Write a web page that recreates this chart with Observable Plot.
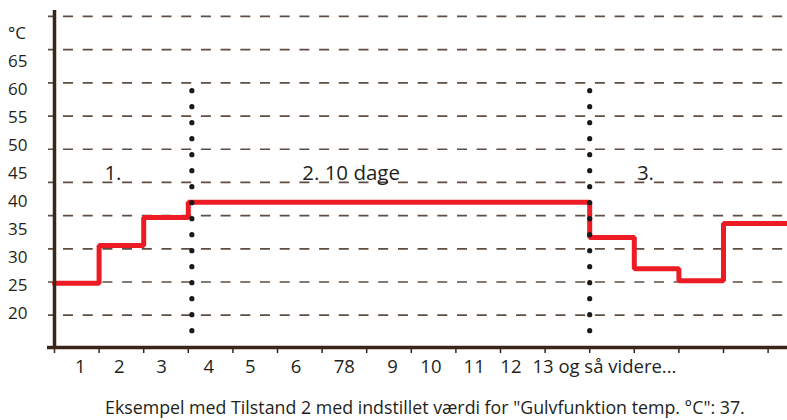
<!DOCTYPE html>
<html><head><meta charset="utf-8">
<script src="https://cdn.jsdelivr.net/npm/d3@7"></script>
<script src="https://cdn.jsdelivr.net/npm/@observablehq/plot@0.6"></script>
<style>
body{margin:0;background:#fff;}
#wrap{position:relative;width:787px;height:420px;overflow:hidden;font-family:"Open Sans",sans-serif;}
#wrap svg{position:absolute;left:0;top:0;}
#caption{position:absolute;left:105px;top:396.5px;font-size:17.8px;line-height:20px;color:#231f20;white-space:nowrap;}
</style></head><body>
<div id="wrap"><div id="caption"></div></div>
<script>
// Temperature program (step curve)
const days = [0, 1, 2, 3, 12, 13, 14, 15, 16.435];
const temps = [24.8, 30.5, 34.7, 37, 31.7, 27, 25.2, 33.8, 33.8];
// gridlines
const gridTemps = [20, 25, 30, 35, 40, 45, 50, 55, 60, 65];
// y tick labels (drawn on their own label scale)
const yTickValues = [20, 25, 30, 35, 40, 45, 50, 55, 60, 65, 70];
const yTickLabels = ["20", "25", "30", "35", "40", "45", "50", "55", "60", "65", "°C"];
// x ticks and labels
const xTickValues = [0, 1, 2, 3, 4, 5, 6, 7, 8, 9, 10, 11, 12, 13, 14, 15, 16];
const xLabels = ["1", "2", "3", "4", "5", "6", "78", "9", "10", "11", "12", "13 og så videre..."];
const xLabelPos = [0.576, 1.451, 2.399, 3.462, 4.388, 5.413, 6.496, 7.578, 8.439, 9.41, 10.233, 12.33];
// phase labels
const phaseLabels = ["1.", "2. 10 dage", "3."];
const phaseX = [1.31, 6.65, 13.25];
const phaseY = [41.36, 41.36, 41.36];
// dotted phase dividers
const dividerX = [3.08, 12];
const dividerTop = 53.74, dividerBottom = 17.39;
const captionText = 'Eksempel med Tilstand 2 med indstillet værdi for "Gulvfunktion temp. °C": 37.';

const xMin = 0, xMax = 16.435, yMin = 15.13, yMax = 65.9;
const axisColor = "#3b2418", gridColor = "#5e4d42", textColor = "#231f20";

const series = days.map((d, i) => ({day: d, temp: temps[i]}));
const xLab = xLabels.map((t, i) => ({t, x: xLabelPos[i]}));
const phases = phaseLabels.map((t, i) => ({t, x: phaseX[i], y: phaseY[i]}));
const dividers = dividerX.map(x => ({x, top: dividerTop, bottom: dividerBottom}));

const main = Plot.plot({
  width: 787, height: 385,
  marginLeft: 54, marginRight: 0, marginTop: 10, marginBottom: 38,
  x: {domain: [xMin, xMax]},
  y: {domain: [yMin, yMax], axis: null},
  style: {background: "transparent", fontFamily: "'Open Sans', sans-serif", overflow: "visible"},
  marks: [
    Plot.ruleY(gridTemps, {stroke: gridColor, strokeWidth: 1.7, strokeDasharray: "10,9.7", strokeDashoffset: 4.7, insetLeft: -6}),
    Plot.line(series, {x: "day", y: "temp", curve: "step-after", stroke: "#ed1c24", strokeWidth: 5, strokeLinejoin: "miter"}),
    Plot.ruleX(dividers, {x: "x", y1: "top", y2: "bottom", stroke: "#1a1a1a", strokeWidth: 5.2, strokeDasharray: "0,16", strokeLinecap: "round"}),
    Plot.text(phases, {x: "x", y: "y", text: "t", fontSize: 20.5, fill: textColor}),
    Plot.axisX(xTickValues, {tickSize: 6, tickFormat: () => "", stroke: axisColor, strokeWidth: 1.5}),
    Plot.text(xLab, {x: "x", text: "t", frameAnchor: "bottom", dy: 25.4, fontSize: 18.5, fill: textColor}),
    Plot.ruleY([yMin], {stroke: axisColor, strokeWidth: 3.5, insetLeft: -7}),
    Plot.ruleX([xMin], {stroke: axisColor, strokeWidth: 3.5, insetBottom: -1.5})
  ]
});

const labelMap = new Map(yTickValues.map((v, i) => [v, yTickLabels[i]]));
const yAxisPlot = Plot.plot({
  width: 787, height: 385,
  marginLeft: 7.5, marginRight: 0, marginTop: 0, marginBottom: 0,
  y: {domain: [20, 70], range: [313.1, 33.1]},
  style: {background: "transparent", fontFamily: "'Open Sans', sans-serif"},
  marks: [
    Plot.axisY(yTickValues, {tickSize: 0, tickPadding: 0, textAnchor: "start", tickFormat: d => labelMap.get(d), fontSize: 17, fill: textColor})
  ]
});

const wrap = document.getElementById("wrap");
wrap.insertBefore(main, wrap.firstChild);
wrap.insertBefore(yAxisPlot, document.getElementById("caption"));
document.getElementById("caption").textContent = captionText;
</script>
</body></html>
